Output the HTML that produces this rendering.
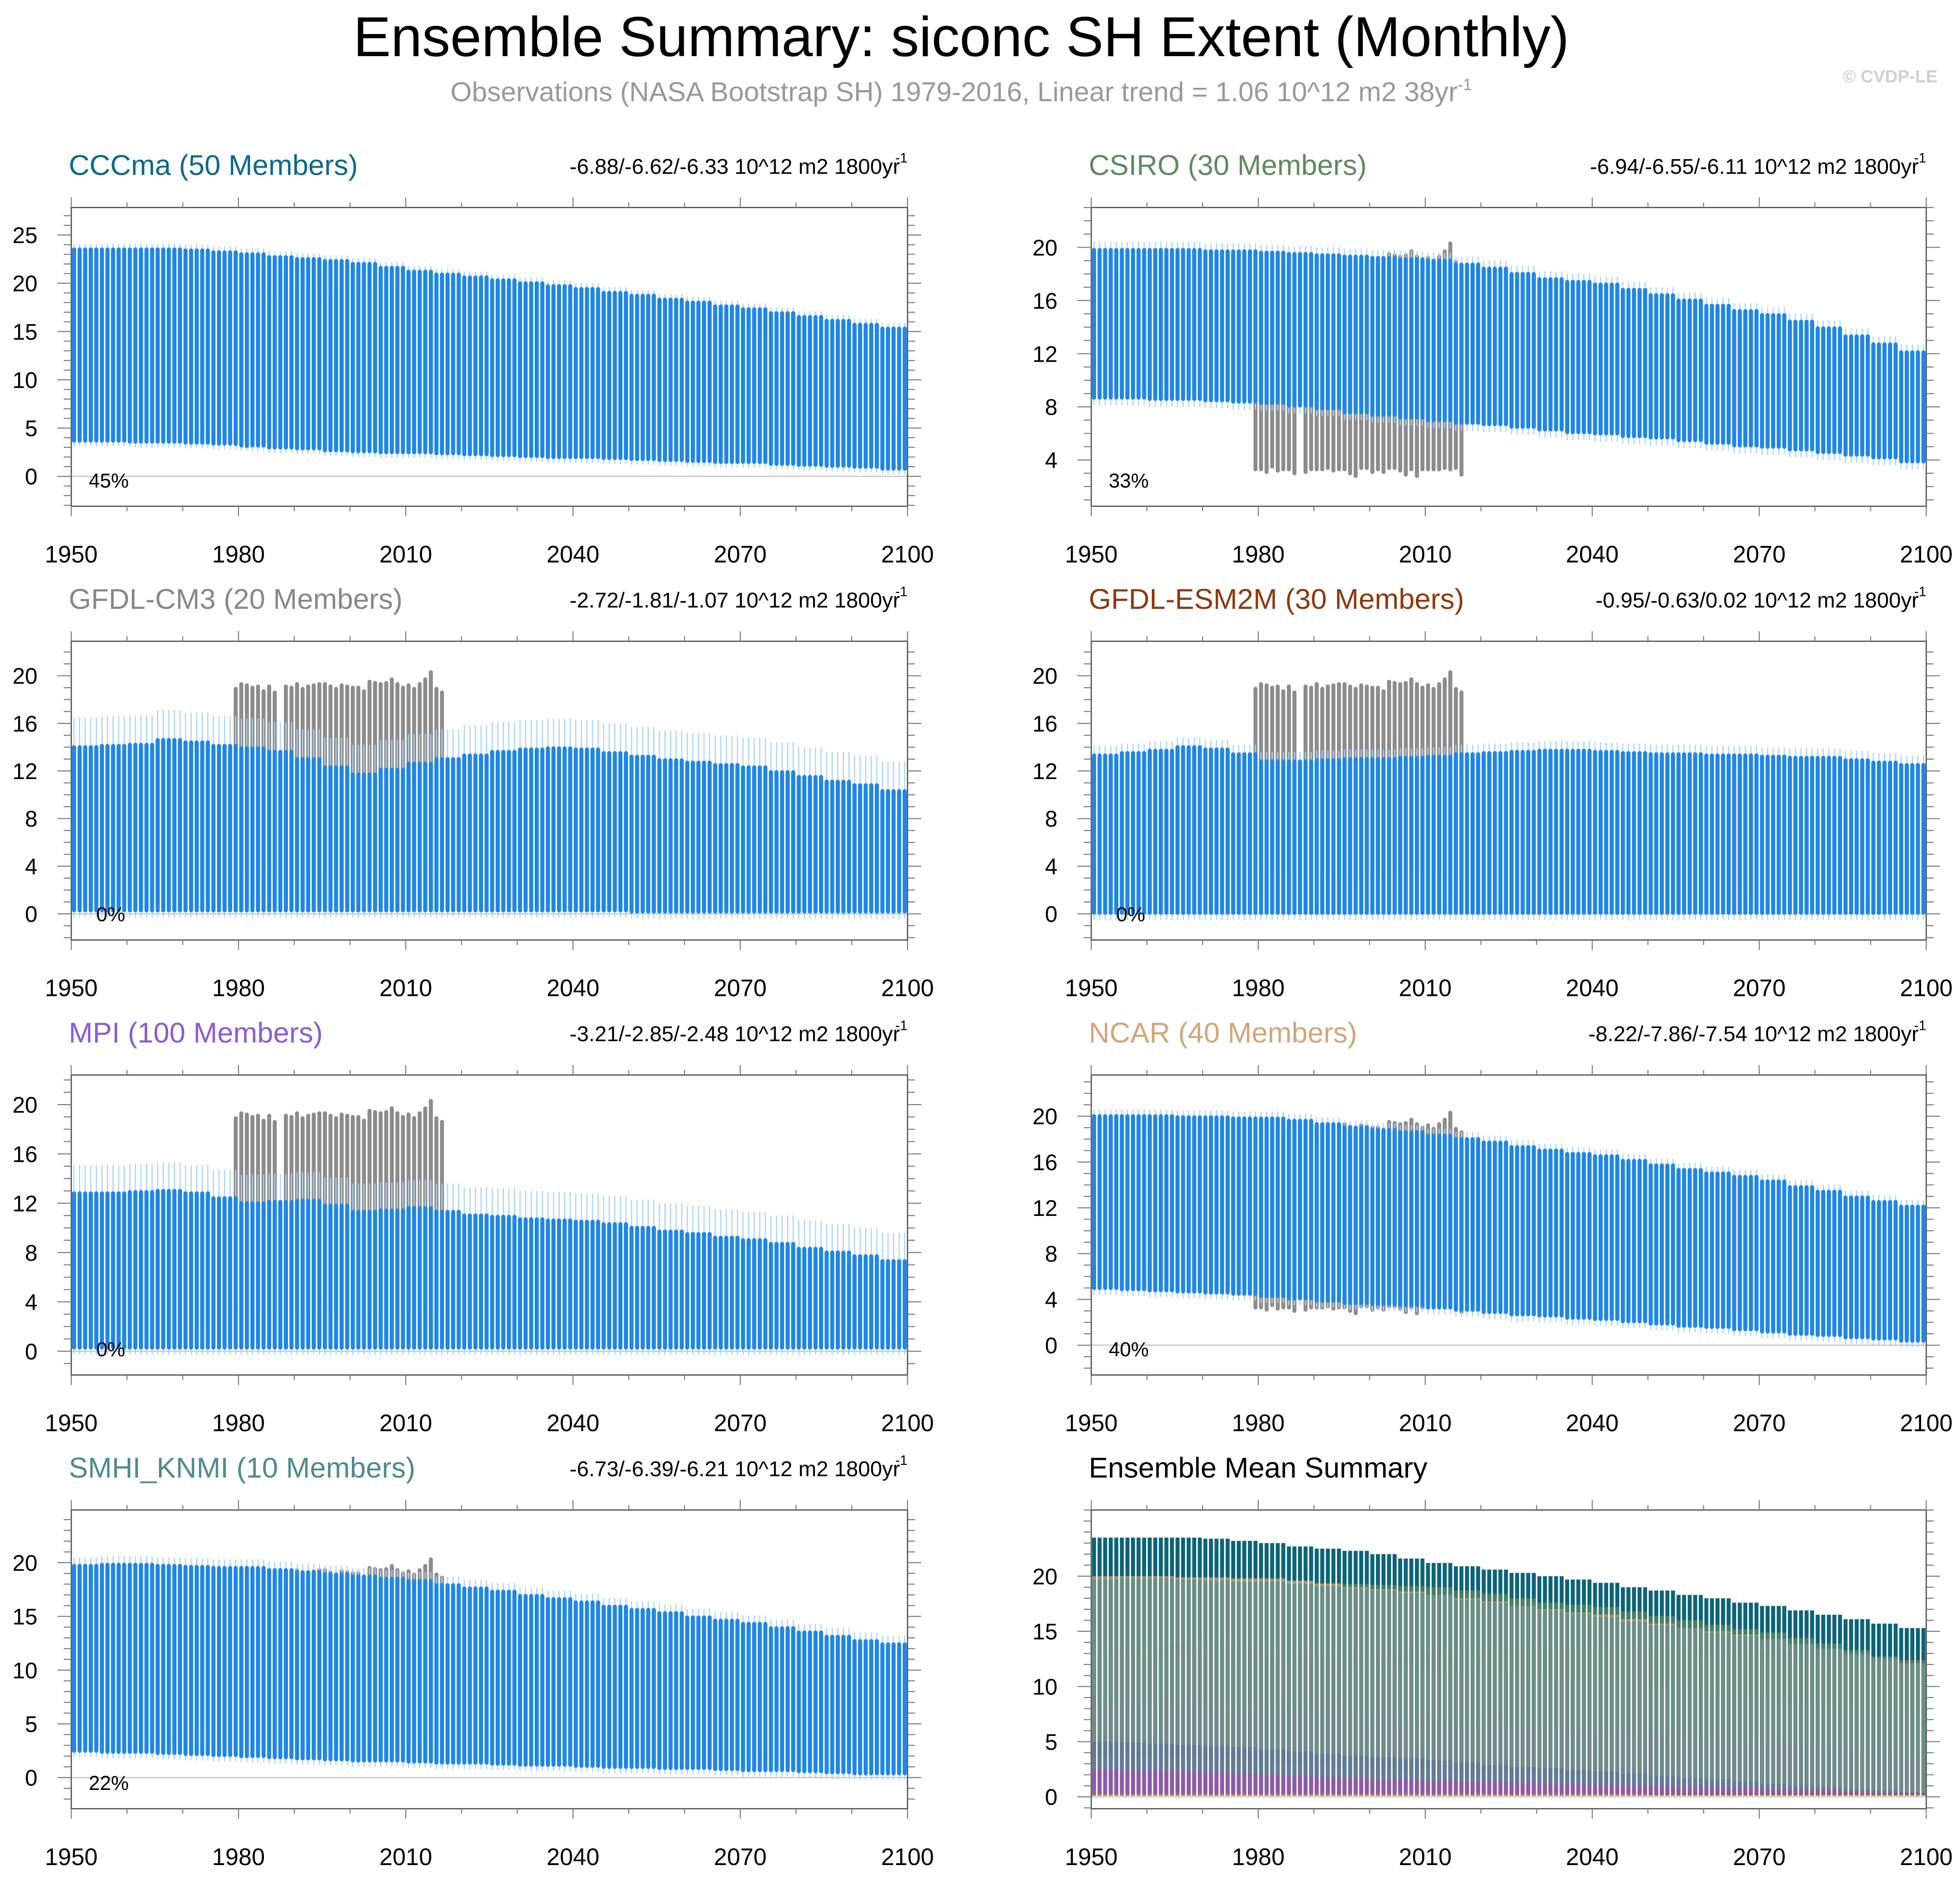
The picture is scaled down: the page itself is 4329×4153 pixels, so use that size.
<!DOCTYPE html>
<html><head><meta charset="utf-8"><title>Ensemble Summary: siconc SH Extent (Monthly)</title>
<style>
html,body{margin:0;padding:0;background:#fff;}
svg{display:block;font-family:"Liberation Sans",Arial,sans-serif;}
</style></head>
<body>
<svg id="chart" xmlns="http://www.w3.org/2000/svg" width="4329" height="4153" viewBox="0 0 1568 1504" preserveAspectRatio="none">
<rect x="0" y="0" width="1568" height="1504" fill="#fff"/>
<text x="769" y="45" font-size="45" text-anchor="middle" fill="#000">Ensemble Summary: siconc SH Extent (Monthly)</text>
<text x="769" y="81" font-size="22" text-anchor="middle" fill="#999">Observations (NASA Bootstrap SH) 1979-2016, Linear trend = 1.06 10^12 m2 38yr<tspan dy="-9" font-size="13">-1</tspan></text>
<text x="1550" y="66" font-size="14" font-weight="bold" text-anchor="end" fill="#d0d0d0">© CVDP-LE</text>
<g id="panels"></g>
</svg>
<script>
// ---- data (5-year steps, 1950..2100) ----
const years5 = [1950,1955,1960,1965,1970,1975,1980,1985,1990,1995,2000,2005,2010,2015,2020,2025,2030,2035,2040,2045,2050,2055,2060,2065,2070,2075,2080,2085,2090,2095,2100];
const xTicks = [1950,1980,2010,2040,2070,2100];
const cccmaMax = [23.5,23.5,23.5,23.5,23.4,23.2,23.0,22.7,22.5,22.3,22.0,21.6,21.2,20.9,20.6,20.3,20.0,19.7,19.4,19.0,18.7,18.3,18.0,17.6,17.3,16.9,16.5,16.1,15.7,15.3,15.0];
const cccmaMin = [3.7,3.7,3.6,3.6,3.5,3.4,3.2,3.0,2.9,2.7,2.6,2.5,2.5,2.4,2.3,2.2,2.1,2.0,2.0,1.9,1.8,1.7,1.6,1.5,1.5,1.3,1.2,1.1,1.0,0.8,0.7];
const csiroMax = [19.8,19.8,19.8,19.8,19.7,19.7,19.6,19.5,19.4,19.3,19.2,19.1,19.0,18.7,18.4,18.0,17.6,17.4,17.2,16.8,16.4,16.0,15.6,15.2,14.9,14.4,13.9,13.3,12.7,12.1,11.5];
const csiroMin = [8.7,8.7,8.6,8.6,8.5,8.4,8.3,8.1,7.9,7.6,7.4,7.2,7.0,6.8,6.7,6.5,6.3,6.1,6.0,5.8,5.7,5.5,5.3,5.1,5.0,4.8,4.6,4.4,4.2,3.9,3.7];
const cm3Max = [14.0,14.1,14.2,14.6,14.4,14.1,13.9,13.6,13.0,12.3,11.7,12.1,12.6,13.0,13.3,13.6,13.8,13.9,13.8,13.5,13.2,12.9,12.7,12.5,12.3,11.9,11.5,11.1,10.8,10.3,9.8];
const cm3Min = [0.3,0.3,0.3,0.3,0.3,0.3,0.3,0.3,0.3,0.3,0.3,0.3,0.3,0.3,0.3,0.3,0.3,0.3,0.3,0.3,0.2,0.2,0.2,0.2,0.2,0.2,0.2,0.2,0.2,0.2,0.2];
const esmMax = [13.3,13.5,13.7,14.0,13.8,13.4,12.8,12.8,12.9,13.0,13.0,13.1,13.2,13.4,13.5,13.6,13.7,13.7,13.6,13.5,13.4,13.4,13.3,13.3,13.2,13.1,13.1,12.9,12.7,12.5,12.2];
const esmMin = [0.1,0.1,0.1,0.1,0.1,0.1,0.1,0.1,0.1,0.1,0.1,0.1,0.1,0.1,0.1,0.1,0.1,0.1,0.1,0.1,0.1,0.1,0.1,0.1,0.1,0.1,0.1,0.1,0.1,0.1,0.1];
const mpiMax = [12.8,12.8,12.9,13.0,12.8,12.4,12.0,12.1,12.2,11.8,11.3,11.4,11.6,11.3,11.0,10.9,10.7,10.6,10.5,10.3,10.0,9.7,9.5,9.2,9.0,8.7,8.3,8.0,7.7,7.3,7.0];
const mpiMin = [0.3,0.3,0.3,0.3,0.3,0.3,0.3,0.3,0.3,0.3,0.3,0.3,0.3,0.3,0.3,0.3,0.3,0.3,0.3,0.3,0.3,0.3,0.3,0.3,0.3,0.3,0.3,0.3,0.3,0.3,0.3];
const ncarMax = [20.0,20.0,20.0,19.9,19.9,19.8,19.8,19.6,19.3,19.0,18.8,18.6,18.3,18.0,17.7,17.3,17.0,16.7,16.5,16.1,15.7,15.3,15.0,14.7,14.3,13.8,13.4,12.9,12.5,12.1,11.7];
const ncarMin = [5.0,4.9,4.8,4.7,4.6,4.5,4.3,4.1,3.9,3.7,3.6,3.5,3.3,3.1,2.9,2.7,2.6,2.4,2.3,2.1,1.9,1.7,1.6,1.4,1.2,1.0,0.9,0.7,0.6,0.4,0.3];
const smhiMax = [19.7,19.8,19.8,19.7,19.6,19.5,19.5,19.3,19.1,18.9,18.7,18.5,18.3,17.9,17.6,17.3,16.9,16.6,16.3,15.9,15.6,15.3,14.9,14.6,14.3,13.9,13.5,13.1,12.7,12.4,12.0];
const smhiMin = [2.5,2.4,2.4,2.3,2.2,2.1,2.0,1.9,1.8,1.7,1.6,1.6,1.5,1.4,1.4,1.3,1.2,1.2,1.1,1.0,1.0,0.9,0.9,0.8,0.7,0.7,0.6,0.5,0.4,0.4,0.3];
// observations 1979-2016 (yearly max / min)
const obsYears = [1979,1980,1981,1982,1983,1984,1985,1986,1987,1988,1989,1990,1991,1992,1993,1994,1995,1996,1997,1998,1999,2000,2001,2002,2003,2004,2005,2006,2007,2008,2009,2010,2011,2012,2013,2014,2015,2016];
const obsMax = [18.9,19.3,19.2,19.0,19.1,18.7,19.1,18.6,null,19.1,19.0,19.3,18.9,19.1,19.2,19.3,19.3,19.1,18.9,19.2,19.1,19.0,19.0,18.7,19.5,19.4,19.3,19.4,19.7,19.3,19.0,19.2,18.9,19.3,19.7,20.3,18.9,18.6];
const obsMin = [3.3,3.3,3.1,3.5,3.2,3.3,3.3,3.0,null,3.1,3.3,3.3,3.3,3.4,3.2,3.3,3.3,3.0,2.8,3.4,3.4,3.1,3.3,3.1,3.4,3.4,3.2,2.9,3.3,2.8,3.3,3.3,3.3,3.3,3.4,3.3,3.4,2.9];

const panels = [
 {name:'cccma',title:'CCCma (50 Members)',color:'#0a6a8a',trend:'-6.88/-6.62/-6.33 10^12 m2 1800yr',pct:'45%',mx:cccmaMax,mn:cccmaMin,col:0,row:0,ymin:-3.1,ymax:27.85,ticks:[0,5,10,15,20,25],spread:0.6},
 {name:'csiro',title:'CSIRO (30 Members)',color:'#5f8a5f',trend:'-6.94/-6.55/-6.11 10^12 m2 1800yr',pct:'33%',mx:csiroMax,mn:csiroMin,col:1,row:0,ymin:0.52,ymax:23.0,ticks:[4,8,12,16,20],spread:0.6},
 {name:'gfdl-cm3',title:'GFDL-CM3 (20 Members)',color:'#888888',trend:'-2.72/-1.81/-1.07 10^12 m2 1800yr',pct:'0%',mx:cm3Max,mn:cm3Min,col:0,row:1,ymin:-2.2,ymax:22.9,ticks:[0,4,8,12,16,20],spread:2.5},
 {name:'gfdl-esm2m',title:'GFDL-ESM2M (30 Members)',color:'#8b3a0e',trend:'-0.95/-0.63/0.02 10^12 m2 1800yr',pct:'0%',mx:esmMax,mn:esmMin,col:1,row:1,ymin:-2.2,ymax:22.9,ticks:[0,4,8,12,16,20],spread:0.8},
 {name:'mpi',title:'MPI (100 Members)',color:'#8a5cd6',trend:'-3.21/-2.85/-2.48 10^12 m2 1800yr',pct:'0%',mx:mpiMax,mn:mpiMin,col:0,row:2,ymin:-1.93,ymax:22.4,ticks:[0,4,8,12,16,20],spread:2.3},
 {name:'ncar',title:'NCAR (40 Members)',color:'#d2a679',trend:'-8.22/-7.86/-7.54 10^12 m2 1800yr',pct:'40%',mx:ncarMax,mn:ncarMin,col:1,row:2,ymin:-2.6,ymax:23.6,ticks:[0,4,8,12,16,20],spread:0.6},
 {name:'smhi-knmi',title:'SMHI_KNMI (10 Members)',color:'#4f8a8f',trend:'-6.73/-6.39/-6.21 10^12 m2 1800yr',pct:'22%',mx:smhiMax,mn:smhiMin,col:0,row:3,ymin:-2.9,ymax:24.9,ticks:[0,5,10,15,20],spread:0.8},
];
const ens = {name:'ensemble-mean',title:'Ensemble Mean Summary',col:1,row:3,ymin:-1.08,ymax:26.0,ticks:[0,5,10,15,20]};

const NS='http://www.w3.org/2000/svg';
const root=document.getElementById('panels');
const BX=[[57,726],[873,1541]];
const BY=[[166,405],[513,752],[860,1100],[1208,1447]];
function mk(tag,attrs,parent){const e=document.createElementNS(NS,tag);for(const k in attrs)e.setAttribute(k,attrs[k]);(parent||root).appendChild(e);return e;}
function valAt(arr,yr){return arr[Math.floor((yr-1950)/5)];}

function frame(p,g){
  const [x0,x1]=BX[p.col],[y0,y1]=BY[p.row];
  const sx=yr=>x0+(yr-1950)/150*(x1-x0);
  const sy=v=>y1-(v-p.ymin)/(p.ymax-p.ymin)*(y1-y0);
  if(p.ymin<0){const z=mk('line',{x1:x0,x2:x1,y1:sy(0),y2:sy(0),stroke:'#c8c8c8','stroke-width':1},g);
  
  }
  return {x0,x1,y0,y1,sx,sy};
}
function axes(p,g,f){
  const {x0,x1,y0,y1,sx,sy}=f;
  const box=mk('rect',{x:x0,y:y0,width:x1-x0,height:y1-y0,fill:'none',stroke:'#555','stroke-width':1},g);
  
  
  for(let yr=1950;yr<=2100;yr+=10){
    const major=(yr-1950)%30===0, L=major?8:4, x=sx(yr);
    mk('line',{x1:x,x2:x,y1:y0,y2:y0-L,stroke:'#777','stroke-width':0.8},g);
    mk('line',{x1:x,x2:x,y1:y1,y2:y1+L,stroke:'#777','stroke-width':0.8},g);
  }
  xTicks.forEach(yr=>{const t=mk('text',{x:sx(yr),y:y1+45,'font-size':19,'text-anchor':'middle',fill:'#000'},g);t.textContent=yr;
    
    });
  for(let v=Math.ceil(p.ymin);v<=p.ymax;v++){
    const major=p.ticks.includes(v), L=major?11:6, y=sy(v);
    mk('line',{x1:x0,x2:x0-L,y1:y,y2:y,stroke:'#777','stroke-width':0.8},g);
    mk('line',{x1:x1,x2:x1+L,y1:y,y2:y,stroke:'#777','stroke-width':0.8},g);
  }
  p.ticks.forEach(v=>{const t=mk('text',{x:x0-27,y:sy(v)+6.5,'font-size':18,'text-anchor':'end',fill:'#000'},g);t.textContent=v;
    
    });
  const tt=mk('text',{x:x0-2,y:y0-26,'font-size':23,fill:p.color||'#000'},g);tt.textContent=p.title;
  
  
  if(p.trend){const tr=mk('text',{x:x1-6,y:y0-27,'font-size':17.2,'text-anchor':'end',fill:'#000'},g);tr.textContent=p.trend;
    
    
    const s=mk('text',{x:x1,y:y0-36,'font-size':11,'text-anchor':'end',fill:'#000'},g);s.textContent='-1';}
  if(p.pct){const pc=mk('text',{x:x0+(p.pct.length>2?14:20),y:y1-15,'font-size':16,fill:'#000'},g);pc.textContent=p.pct;
    
    }
}
function obs(g,f){
  obsYears.forEach((yr,i)=>{if(obsMax[i]==null)return;
    const l=mk('line',{x1:f.sx(yr+0.5),x2:f.sx(yr+0.5),y1:f.sy(obsMin[i]),y2:f.sy(obsMax[i]),stroke:'#8c8c8c','stroke-width':3.2,'stroke-linecap':'round'},g);
    
    });
}
panels.forEach(p=>{
  const g=mk('g',{});
  
  
  const f=frame(p,g);
  obs(g,f);
  for(let yr=1950;yr<2100;yr++){
    const hi=valAt(p.mx,yr),lo=valAt(p.mn,yr),x=f.sx(yr+0.5);
    mk('line',{x1:x,x2:x,y1:f.sy(Math.max(p.ymin,lo-0.6)),y2:f.sy(hi+p.spread),stroke:'#a9d3f7','stroke-width':0.9},g);
    const b=mk('line',{x1:x,x2:x,y1:f.sy(lo),y2:f.sy(hi),stroke:'#1e86e8','stroke-width':3.3,'stroke-linecap':'round'},g);
    
    
  }
  axes(p,g,f);
});
(function(){
  const g=mk('g',{});
  
  
  const f=frame(ens,g);
  const order=[0,2,3,4,1,5,6];
  order.forEach(pi=>{const p=panels[pi];
    for(let yr=1950;yr<2100;yr++){
      const x=f.sx(yr+0.5);
      const b=mk('line',{x1:x,x2:x,y1:f.sy(valAt(p.mn,yr)),y2:f.sy(valAt(p.mx,yr)),stroke:pi===0?'#0b6478':p.color,'stroke-width':3.2,opacity:pi===0?1:0.7},g);
      
      
    }});
  axes(ens,g,f);
})();
</script>
</body></html>
